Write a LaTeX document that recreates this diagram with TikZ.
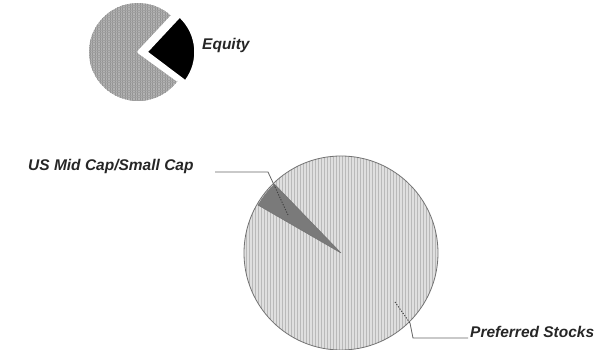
\documentclass[tikz,border=0pt]{standalone}
\usepackage{fontspec}
\setmainfont{Liberation Sans}
\usetikzlibrary{patterns.meta}
\begin{document}
\begin{tikzpicture}[x=1pt,y=1pt,
  lbl/.style={font=\fontsize{15.5}{17}\selectfont\bfseries\itshape, text=black!85, inner sep=0pt},
  leader/.style={draw=black!60, line width=0.8pt},
  dotleader/.style={draw=black!75, line width=0.9pt, dash pattern=on 1.2pt off 1.5pt},
  rim/.style={draw=black!55, line width=0.8pt}]
\useasboundingbox (0,0) rectangle (614,350);
% top pie
\coordinate (tc) at (138,298);
\coordinate (bc) at (147,298);
\fill[gray!60] (tc) -- ++(47:49) arc[start angle=47, end angle=324, radius=49] -- cycle;
\pattern[pattern={Lines[angle=90,distance=2.5pt,line width=0.5pt]}, pattern color=gray!85] (tc) -- ++(47:49) arc[start angle=47, end angle=324, radius=49] -- cycle;
\pattern[pattern={Lines[angle=0,distance=2.5pt,line width=0.4pt]}, pattern color=gray!75] (tc) -- ++(47:49) arc[start angle=47, end angle=324, radius=49] -- cycle;
\draw[draw=white, line width=2pt] (tc) -- ++(47:49) (tc) -- ++(324:49);
\fill[black] (bc) -- ++(-37:48) arc[start angle=-37, end angle=47, radius=48] -- cycle;
\draw[draw=white, line width=1.5pt] (bc) -- ++(-37:48) arc[start angle=-37, end angle=47, radius=48] -- cycle;
\node[lbl, anchor=west] (eq) at (202,305) {Equity};
% big pie
\coordinate (c) at (341,97);
\fill[gray!25] (c) circle[radius=97];
\pattern[pattern={Lines[angle=90,distance=3pt,line width=0.6pt]}, pattern color=gray!55] (c) circle[radius=97];
\fill[black!52] (c) -- ++(134:96) arc[start angle=134, end angle=150, radius=96] -- cycle;
\draw[rim] (c) circle[radius=97];
\draw[draw=black!55, line width=0.5pt] (c) -- ++(134:96) (c) -- ++(150:96);
% labels and leaders
\node[lbl, anchor=west] (us) at (28,184) {US Mid Cap/Small Cap};
\coordinate (u1) at (215,178);
\coordinate (u2) at (268,178);
\coordinate (u3) at (275,163);
\coordinate (u4) at (288,135);
\draw[leader] (u1) -- (u2) -- (u3);
\draw[dotleader] (u3) -- (u4);
\node[lbl, anchor=west] (ps) at (470,18) {Preferred Stocks};
\coordinate (p1) at (395,48);
\coordinate (p2) at (410,27);
\coordinate (p3) at (413,12);
\coordinate (p4) at (468,12);
\draw[dotleader] (p1) -- (p2);
\draw[leader] (p2) -- (p3) -- (p4);
\end{tikzpicture}
\end{document}
